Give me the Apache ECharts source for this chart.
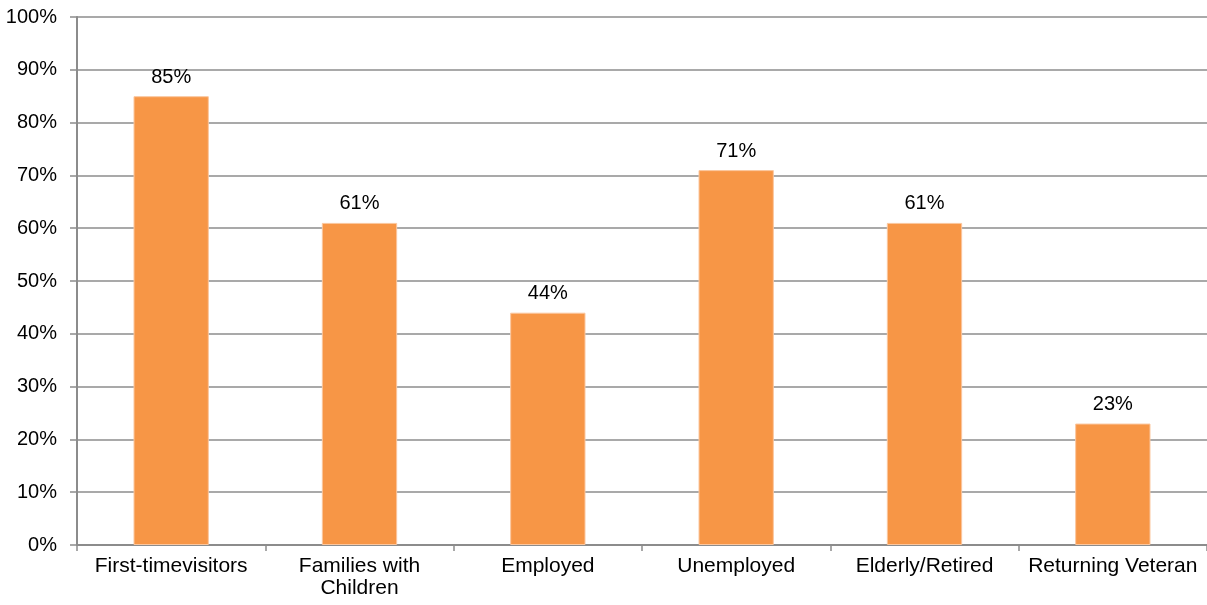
<!DOCTYPE html>
<html>
<head>
<meta charset="utf-8">
<script src="https://cdn.jsdelivr.net/npm/echarts@6/dist/echarts.min.js"></script>
<style>
html,body{margin:0;padding:0;background:#fff;}
#chart{width:1207px;height:605px;}
</style>
</head>
<body>
<div id="chart"></div>
<script>
// Visitor groups and their share (%)
const categories = ['First-timevisitors', 'Families with\nChildren', 'Employed', 'Unemployed', 'Elderly/Retired', 'Returning Veteran'];
const shares = [85, 61, 44, 71, 61, 23];

const chart = echarts.init(document.getElementById('chart'), null, {renderer: 'canvas'});
const font = '"Liberation Sans", Arial, sans-serif';
const lineColor = '#8c8c8c';

chart.setOption({
  animation: false,
  grid: {left: 77, top: 17, width: 1132, height: 528, containLabel: false},
  xAxis: {
    type: 'category',
    data: categories,
    axisLine: {lineStyle: {color: lineColor, width: 2}},
    axisTick: {show: true, length: 6, lineStyle: {color: lineColor, width: 1.5}},
    axisLabel: {color: '#000', fontFamily: font, fontSize: 21, margin: 10, lineHeight: 22, interval: 0}
  },
  yAxis: {
    type: 'value',
    min: 0, max: 100, interval: 10,
    axisLine: {show: true, lineStyle: {color: lineColor, width: 2}},
    axisTick: {show: true, length: 7, lineStyle: {color: lineColor, width: 1.5}},
    splitLine: {lineStyle: {color: lineColor, width: 1.5}},
    axisLabel: {color: '#000', fontFamily: font, fontSize: 20, margin: 20, formatter: '{value}%'}
  },
  series: [{
    type: 'bar',
    data: shares,
    barWidth: '40%',
    itemStyle: {color: '#f79646', borderColor: '#fbc79f', borderWidth: 1},
    label: {show: true, position: 'top', distance: 9, color: '#000', fontFamily: font, fontSize: 20, formatter: '{c}%'}
  }]
});
</script>
</body>
</html>
